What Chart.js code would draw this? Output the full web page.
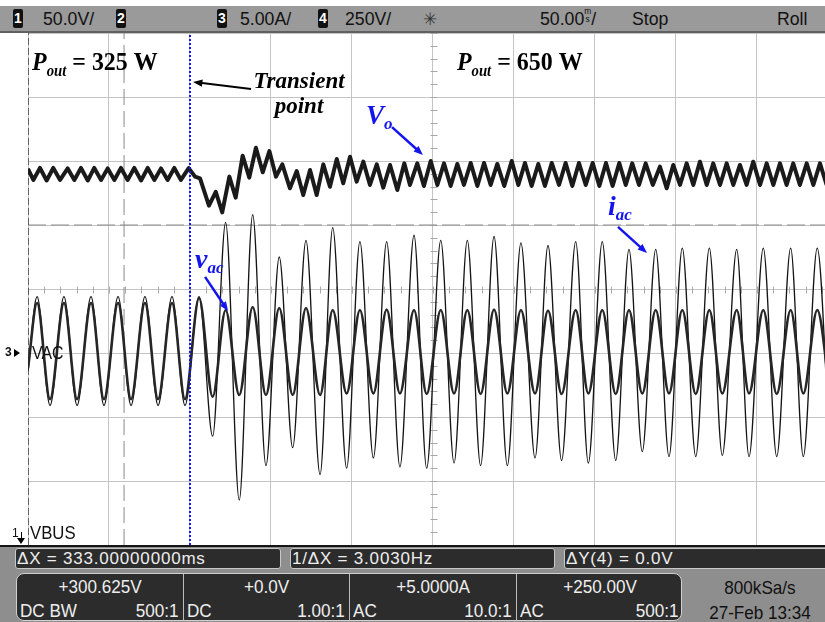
<!DOCTYPE html>
<html>
<head>
<meta charset="utf-8">
<title>Load step 325 W to 650 W</title>
<script src="https://cdn.jsdelivr.net/npm/chart.js@4.4.1/dist/chart.umd.min.js"></script>
<style>
  body { margin: 0; background: #fff; }
  #scope { position: relative; width: 825px; height: 622px; overflow: hidden; background: #fff;
           font-family: 'Liberation Sans', Arial, sans-serif; color: #111; }
  #scope canvas { position: absolute; left: 0; top: 0; }
  .abs { position: absolute; white-space: nowrap; }
  .n { display: inline-block; transform: scaleX(0.93); transform-origin: left center; }
  #topbar { left: 0; top: 6px; width: 825px; height: 25px; background: #9a9a9a; border-bottom: 2px solid #606060;
            font-size: 19px; line-height: 26px; }
  .badge { position: absolute; top: 3px; width: 10px; height: 19px; background: #111; color: #fff;
           font: bold 14px/19px 'Liberation Sans', sans-serif; text-align: center; border-radius: 2px; }
  .stack { display: inline-block; font-size: 9px; line-height: 8px; vertical-align: 3px; text-align: center; }
  #bottom { left: 0; top: 545px; width: 825px; height: 77px; background: #8e8e8e; border-top: 2px solid #151515; box-sizing: border-box; }
  .mbox { top: 548px; height: 21px; background: #2c2c2c; border: 1px solid #c8c8c8; border-radius: 3px; color: #eee;
          font-size: 17px; line-height: 20px; padding-left: 1px; letter-spacing: 0.8px; box-sizing: border-box; }
  #chbox { left: 16px; top: 573px; width: 666px; height: 48px; background: #2c2c2c; border: 1.5px solid #d0d0d0;
           border-radius: 8px; box-sizing: border-box; color: #eee; font-size: 19px; overflow: hidden; }
  .cell { position: absolute; top: 0; height: 48px; border-left: 1px solid #bdbdbd; box-sizing: border-box; }
  .cell .v { position: absolute; left: 0; right: 0; top: 3px; text-align: center; line-height: 20px;
             transform: scaleX(0.9); transform-origin: center; }
  .cell .l { position: absolute; left: 3px; top: 27px; line-height: 20px; transform: scaleX(0.9); transform-origin: left center; }
  .cell .r { position: absolute; right: 4px; top: 27px; line-height: 20px; transform: scaleX(0.9); transform-origin: right center; }
  #info { left: 690px; top: 575px; width: 140px; text-align: center; font-size: 19px; line-height: 25px;
          transform: scaleX(0.9); transform-origin: center; }
</style>
</head>
<body>
<div id="scope">
  <canvas id="c" width="825" height="622"></canvas>

  <div id="topbar" class="abs">
    <span class="badge" style="left:13px">1</span><span class="abs n" style="left:43px">50.0V/</span>
    <span class="badge" style="left:116px">2</span>
    <span class="badge" style="left:217px">3</span><span class="abs n" style="left:240px">5.00A/</span>
    <span class="badge" style="left:318px">4</span><span class="abs n" style="left:345px">250V/</span>
    <span class="abs" style="left:423px; font-family:'DejaVu Sans'; font-size:17px; color:#333">✳</span>
    <span class="abs n" style="left:540px">50.00<span class="stack">m<br>s</span>/</span>
    <span class="abs n" style="left:632px">Stop</span>
    <span class="abs n" style="left:777px">Roll</span>
  </div>

  <div class="abs" style="left:12px; top:527px; font-size:12px; line-height:12px">1</div>
  <div class="abs" style="left:21px; top:532px; width:1px; height:7px; background:#000"></div>
  <div class="abs" style="left:17px; top:538px; width:0; height:0; border-left:4px solid transparent; border-right:4px solid transparent; border-top:6px solid #000"></div>
  <div class="abs n" style="left:30px; top:523px; font-size:18px; line-height:20px">VBUS</div>

  <div class="abs" style="left:5px; top:346px; font-size:12px; line-height:12px; font-weight:bold">3</div>
  <div class="abs" style="left:14px; top:349px; width:0; height:0; border-top:4px solid transparent; border-bottom:4px solid transparent; border-left:6px solid #000"></div>
  <div class="abs" style="left:32px; top:343px; font-size:18px; line-height:20px; transform:scaleX(0.88); transform-origin:left center">VAC</div>

  <div id="bottom" class="abs"></div>
  <div class="abs mbox" style="left:15px; width:266px">ΔX = 333.00000000ms</div>
  <div class="abs mbox" style="left:290px; width:265px">1/ΔX = 3.0030Hz</div>
  <div class="abs mbox" style="left:564px; width:275px">ΔY(4) = 0.0V</div>

  <div id="chbox" class="abs">
    <div class="cell" style="left:0; width:166px; border-left:none"><span class="v">+300.625V</span><span class="l">DC BW</span><span class="r">500:1</span></div>
    <div class="cell" style="left:166px; width:166px"><span class="v">+0.0V</span><span class="l">DC</span><span class="r">1.00:1</span></div>
    <div class="cell" style="left:332px; width:167px"><span class="v">+5.0000A</span><span class="l">AC</span><span class="r">10.0:1</span></div>
    <div class="cell" style="left:499px; width:167px"><span class="v">+250.00V</span><span class="l">AC</span><span class="r">500:1</span></div>
  </div>
  <div id="info" class="abs">800kSa/s<br>27-Feb 13:34</div>
</div>

<script>
// time in ms (50 ms/div), screen shows 0 .. ~492 ms
var timeMin = 0;
var timeMax = 492;
var centreTime = 250;

// ch1 Vo (V), 50 V/div, offset 300.625 V
var voTime = [
    0, 3.3, 7.4, 11.5, 15.6, 19.8, 24.5, 28.6,
    32.7, 36.9, 40.9, 45.1, 49.2, 53.3, 57.4, 61.5,
    65.6, 69.8, 73.9, 78.0, 82.1, 86.2, 90.3, 94.4,
    99.2, 103.1, 106.2, 111.7, 115.9, 119.9, 124.3, 128.2,
    132.5, 136.6, 140.7, 144.9, 149.0, 153.1, 157.0, 161.7,
    165.9, 169.9, 174.1, 178.2, 182.3, 186.4, 190.6, 194.6,
    198.8, 202.9, 207.0, 211.1, 215.3, 219.3, 223.5, 228.0,
    232.3, 235.8, 240.3, 244.4, 248.6, 252.7, 256.8, 260.9,
    265.0, 269.1, 273.3, 277.4, 281.5, 285.6, 289.7, 294.0,
    298.6, 302.7, 306.8, 310.9, 315.0, 319.1, 323.3, 327.8,
    331.9, 336.0, 340.1, 344.3, 348.6, 352.7, 356.8, 360.9,
    365.0, 369.0, 373.0, 377.2, 381.3, 385.7, 390.1, 394.3,
    398.3, 402.5, 406.6, 410.7, 414.8, 419.0, 423.0, 427.2,
    431.3, 435.4, 439.5, 443.6, 447.7, 451.9, 456.0, 460.1,
    464.2, 468.3, 472.4, 476.5, 480.7, 484.8, 488.9, 493.0
];
var voValue = [
    394.4, 385.8, 395.2, 385.4, 395.2, 385.8, 394.8, 385.8,
    395.2, 385.4, 395.2, 385.8, 394.8, 385.8, 395.2, 385.8,
    395.2, 385.4, 395.2, 385.8, 394.8, 385.8, 395.2, 385.8,
    395.0, 388.4, 387.1, 365.7, 376.6, 360.5, 388.4, 372.0,
    404.8, 387.6, 411.0, 391.8, 408.4, 388.4, 398.0, 379.3,
    392.8, 374.1, 393.6, 374.1, 398.0, 380.5, 402.2, 383.2,
    404.0, 384.5, 400.1, 381.9, 398.0, 379.8, 397.5, 378.0,
    398.8, 381.9, 398.8, 381.1, 400.6, 381.9, 398.8, 381.1,
    398.3, 381.9, 399.1, 381.1, 399.1, 381.9, 398.3, 381.1,
    400.6, 381.9, 399.1, 381.1, 398.3, 381.1, 399.1, 381.9,
    399.1, 381.1, 399.1, 381.9, 399.1, 381.1, 399.1, 381.1,
    399.1, 381.9, 398.8, 381.9, 398.8, 381.9, 396.2, 379.3,
    397.5, 381.9, 398.8, 381.9, 400.1, 381.9, 398.8, 381.9,
    398.8, 381.9, 397.5, 381.9, 400.1, 381.9, 398.8, 381.9,
    398.8, 381.9, 398.8, 381.9, 398.8, 381.9, 398.8, 381.9
];

// ch3 iac (A) and ch4 vac (V) share the same peak/trough instants
var acTime = [
    0, 5.6, 13.6, 22.2, 30.3, 38.9, 46.9, 55.6,
    63.6, 72.2, 80.3, 88.9, 96.9, 105.6, 114.0, 122.0,
    130.4, 138.7, 146.9, 155.1, 163.4, 171.6, 180.3, 188.1,
    196.7, 204.9, 213.2, 221.4, 229.6, 238.3, 246.1, 254.8,
    263.0, 271.2, 279.4, 287.7, 295.9, 304.3, 313.0, 321.0,
    329.4, 338.1, 345.9, 354.5, 362.8, 371.0, 379.2, 387.5,
    395.7, 403.9, 412.2, 420.6, 428.6, 437.5, 445.1, 453.9,
    462.2, 470.8, 478.6, 487.2, 495.1
];
var vacValue = [
    -60, 195.3, -179.7, 195.3, -179.7, 195.3, -179.7, 195.3,
    -179.7, 195.3, -179.7, 195.3, -179.7, 214.8, -170.7, 168.0,
    -164.1, 179.7, -164.1, 175.8, -164.1, 175.8, -164.1, 168.0,
    -158.2, 168.0, -158.2, 170.0, -158.2, 168.0, -160.2, 168.0,
    -158.2, 168.0, -160.2, 170.0, -158.2, 168.0, -158.2, 166.0,
    -160.2, 168.0, -158.2, 168.0, -160.2, 168.0, -158.2, 168.0,
    -158.2, 168.0, -160.2, 168.0, -158.2, 168.0, -158.2, 168.0,
    -160.2, 168.0, -158.2, 168.0, -158.2
];
var iacValue = [
    -1.4, 4.4, -4.1, 4.4, -4.1, 4.4, -4.1, 4.4,
    -4.1, 4.4, -4.1, 4.4, -4.1, 4.4, -6.5, 10.2,
    -11.5, 10.8, -8.8, 7.5, -7.4, 8.8, -9.5, 9.8,
    -9.0, 8.7, -8.2, 8.7, -8.9, 9.2, -9.0, 8.8,
    -8.6, 8.8, -8.8, 9.1, -8.8, 8.6, -8.2, 8.4,
    -8.4, 8.7, -8.6, 8.7, -8.4, 8.1, -7.7, 8.1,
    -8.1, 8.2, -8.1, 8.2, -8.0, 8.1, -8.1, 8.2,
    -8.1, 8.2, -8.1, 8.2, -8.1
];

// cursors
var transientTime = 100;
var cursorTimes = [0, 59.3];
var cursorVolts = 500;

function pts(xs, ys) {
    return xs.map((t, i) => ({ x: t, y: ys[i] }));
}

var serif = " 'Liberation Serif', 'Times New Roman', serif";
var blue = '#1414ee';
// annotation anchors in (ms, divisions from screen centre)
var notes = [
    { t: 2.5, d: 3.42, color: '#000', sx: 0.92, parts: [['P', 'bold italic 26px', 0], ['out', 'bold italic 16px', 6], [' = 325 W', 'bold 26px', 0]] },
    { t: 264.8, d: 3.42, color: '#000', sx: 0.92, parts: [['P', 'bold italic 26px', 0], ['out', 'bold italic 16px', 6], [' = 650 W', 'bold 26px', 0]] },
    { t: 167.3, d: 3.14, color: '#000', sx: 1, center: true, parts: [['Transient', 'bold italic 23px', 0]] },
    { t: 167.3, d: 2.75, color: '#000', sx: 1, center: true, parts: [['point', 'bold italic 23px', 0]] },
    { t: 208.6, d: 2.58, color: blue, sx: 1, parts: [['V', 'bold italic 27px', 0], ['o', 'bold italic 17px', 5]] },
    { t: 103.1, d: 0.33, color: blue, sx: 1, parts: [['v', 'bold italic 28px', 0], ['ac', 'bold italic 17px', 5]] },
    { t: 358.0, d: 1.16, color: blue, sx: 1, parts: [['i', 'bold italic 28px', 0], ['ac', 'bold italic 17px', 5]] }
];
var arrows = [
    { from: [137.7, 3.125], to: [101.9, 3.234], color: '#000', w: 2 },
    { from: [224.7, 2.53], to: [243.8, 2.094], color: blue, w: 2.5 },
    { from: [109.3, 0.19], to: [123.5, -0.344], color: blue, w: 2.5 },
    { from: [364.2, 0.97], to: [382.1, 0.5625], color: blue, w: 2.5 }
];

function drawParts(ctx, x, y, note) {
    ctx.save();
    ctx.fillStyle = note.color;
    ctx.textBaseline = 'alphabetic';
    var total = 0;
    note.parts.forEach(p => { ctx.font = p[1] + serif; total += ctx.measureText(p[0]).width; });
    ctx.translate(note.center ? x - total * note.sx / 2 : x, y);
    ctx.scale(note.sx, 1);
    var cur = 0;
    note.parts.forEach(p => {
        ctx.font = p[1] + serif;
        ctx.fillText(p[0], cur, p[2]);
        cur += ctx.measureText(p[0]).width;
    });
    ctx.restore();
}

function drawArrow(ctx, x1, y1, x2, y2, color, w) {
    var a = Math.atan2(y2 - y1, x2 - x1);
    var head = 10;
    ctx.save();
    ctx.strokeStyle = color;
    ctx.fillStyle = color;
    ctx.lineWidth = w;
    ctx.beginPath();
    ctx.moveTo(x1, y1);
    ctx.lineTo(x2 - Math.cos(a) * head * 0.7, y2 - Math.sin(a) * head * 0.7);
    ctx.stroke();
    ctx.beginPath();
    ctx.moveTo(x2, y2);
    ctx.lineTo(x2 - head * Math.cos(a - 0.38), y2 - head * Math.sin(a - 0.38));
    ctx.lineTo(x2 - head * Math.cos(a + 0.38), y2 - head * Math.sin(a + 0.38));
    ctx.closePath();
    ctx.fill();
    ctx.restore();
}

var scopeMarks = {
    id: 'scopeMarks',
    beforeDatasetsDraw(chart) {
        var ctx = chart.ctx, x = chart.scales.x, y = chart.scales.y;
        var cx = Math.round(x.getPixelForValue(centreTime)) + 0.5;
        var cy = Math.round(y.getPixelForValue(0)) + 0.5;
        ctx.save();
        ctx.strokeStyle = '#a8a8a8';
        ctx.lineWidth = 1;
        ctx.beginPath();
        for (var k = -20; k <= 20; k++) {
            var py = Math.round(y.getPixelForValue(k / 5)) + 0.5;
            ctx.moveTo(cx - 3, py); ctx.lineTo(cx + 4, py);
        }
        for (var t = 0; t <= timeMax; t += 10) {
            var px = Math.round(x.getPixelForValue(t)) + 0.5;
            ctx.moveTo(px, cy - 3); ctx.lineTo(px, cy + 4);
        }
        ctx.stroke();
        ctx.restore();
    },
    afterDatasetsDraw(chart) {
        var ctx = chart.ctx, x = chart.scales.x, y = chart.scales.y;
        notes.forEach(n => drawParts(ctx, x.getPixelForValue(n.t), y.getPixelForValue(n.d), n));
        arrows.forEach(a => drawArrow(ctx,
            x.getPixelForValue(a.from[0]), y.getPixelForValue(a.from[1]),
            x.getPixelForValue(a.to[0]), y.getPixelForValue(a.to[1]), a.color, a.w));
    }
};

new Chart(document.getElementById('c').getContext('2d'), {
    type: 'line',
    data: {
        datasets: [
            { data: [{ x: transientTime, y: -4 }, { x: transientTime, y: 4 }], yAxisID: 'y',
              borderColor: blue, borderWidth: 2, borderDash: [2, 2] },
            { data: pts(voTime, voValue), yAxisID: 'yVo', borderColor: '#1a1a1a', borderWidth: 4, tension: 0 },
            { data: pts(acTime, vacValue), yAxisID: 'yV', borderColor: '#262626', borderWidth: 2.6, cubicInterpolationMode: 'monotone' },
            { data: pts(acTime, iacValue), yAxisID: 'yI', borderColor: '#141414', borderWidth: 1.3, cubicInterpolationMode: 'monotone' },
            { data: [{ x: cursorTimes[0], y: -4 }, { x: cursorTimes[0], y: 4 }], yAxisID: 'y',
              borderColor: '#000', borderWidth: 1, borderDash: [7, 3] },
            { data: [{ x: cursorTimes[1], y: -4 }, { x: cursorTimes[1], y: 4 }], yAxisID: 'y',
              borderColor: '#8a8a8a', borderWidth: 1, borderDash: [16, 6] },
            { data: [{ x: timeMin, y: cursorVolts }, { x: timeMax, y: cursorVolts }], yAxisID: 'yV',
              borderColor: '#8a8a8a', borderWidth: 1, borderDash: [18, 5] }
        ]
    },
    options: {
        responsive: false,
        devicePixelRatio: 1,
        animation: false,
        events: [],
        elements: { point: { radius: 0 }, line: { borderCapStyle: 'butt', borderJoinStyle: 'round' } },
        layout: { padding: { left: 28, top: 33, right: 0, bottom: 77 } },
        plugins: { legend: { display: false }, tooltip: { enabled: false } },
        scales: {
            x: {
                type: 'linear', min: timeMin, max: timeMax,
                ticks: { display: false, stepSize: 50 },
                afterBuildTicks: axis => { axis.ticks = axis.ticks.filter(tk => tk.value % 50 === 0); },
                grid: { color: '#c4c4c4', lineWidth: 1, drawTicks: false },
                border: { display: false }
            },
            y: {
                type: 'linear', min: -4, max: 4, position: 'left',
                ticks: { display: false, stepSize: 1 },
                grid: { color: '#c4c4c4', lineWidth: 1, drawTicks: false },
                border: { display: false }
            },
            yVo: { type: 'linear', min: 100.625, max: 500.625, display: false },
            yI: { type: 'linear', min: -15, max: 25, display: false },
            yV: { type: 'linear', min: -750, max: 1250, display: false }
        }
    },
    plugins: [scopeMarks]
});
</script>
</body>
</html>
